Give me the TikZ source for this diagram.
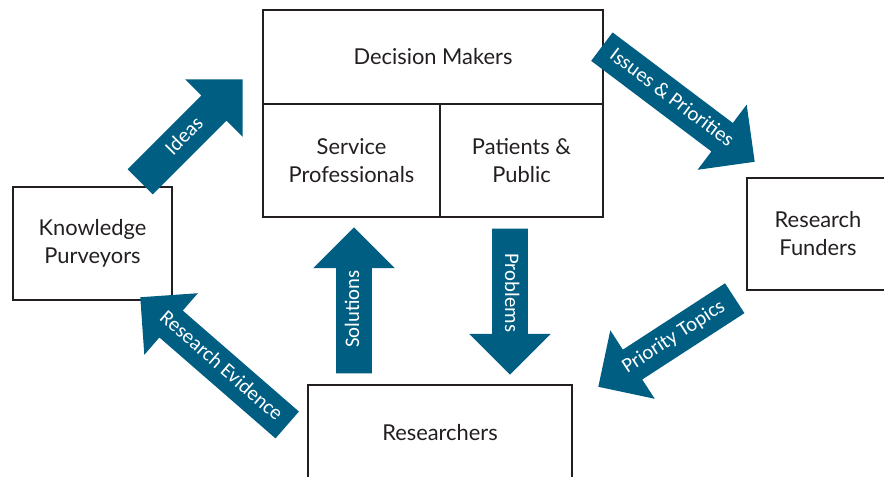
\documentclass[tikz,border=0pt]{standalone}
\usepackage{fontspec}
\setmainfont{Lato}
\newfontfamily\arrowfont{Carlito}
\usetikzlibrary{shapes.arrows}
\definecolor{flowblue}{RGB}{0,94,131}
\definecolor{inkgray}{RGB}{35,31,32}

\begin{document}
\begin{tikzpicture}[
    x=0.75pt,y=-0.75pt,
    group/.style={draw=inkgray,line width=0.9pt,text=inkgray,align=center,
      font=\fontsize{16.4}{21}\selectfont,inner sep=0pt},
    flow/.style={single arrow,fill=flowblue,text=white,anchor=tip,
      font=\arrowfont\fontsize{15.5}{17}\selectfont,
      text height=10.5pt,text depth=3pt,inner xsep=2pt,inner ysep=6.4pt,
      single arrow head extend=17.25pt},
    back/.style={shape border rotate=180}]
\useasboundingbox (0,0) rectangle (884,477);
% decision makers and its two parts
\node[group,minimum width=255pt,minimum height=70.5pt] (dm) at (433,57) {Decision Makers};
\node[group,minimum width=132.75pt,minimum height=84.75pt] (sp) at (351.5,160.5) {Service\\Professionals};
\node[group,minimum width=122.25pt,minimum height=84.75pt] (pp) at (521.5,160.5) {Patients \&\\Public};
% the other groups
\node[group,minimum width=119.25pt,minimum height=84.75pt] (kp) at (92.5,243.5) {Knowledge\\Purveyors};
\node[group,minimum width=106.5pt,minimum height=84pt] (rf) at (818,234) {Research\\Funders};
\node[group,minimum width=198pt,minimum height=72pt] (rs) at (440,433) {Researchers};
% flows between them
\node[flow,minimum height=108.75pt,rotate=45] (ideas) at (243,79) {Ideas};
\node[flow,minimum height=143.5pt,rotate=-37] (issues) at (755,162) {Issues \& Priorities};
\node[flow,minimum height=109.5pt,rotate=90] (solutions) at (354,227) {Solutions};
\node[flow,minimum height=109.5pt,rotate=-90] (problems) at (510,375) {Problems};
\node[flow,back,minimum height=146pt,rotate=-41] (evidence) at (140,297) {Research Evidence};
\node[flow,back,minimum height=122pt,rotate=33] (topics) at (598,387) {Priority Topics};
\end{tikzpicture}
\end{document}
